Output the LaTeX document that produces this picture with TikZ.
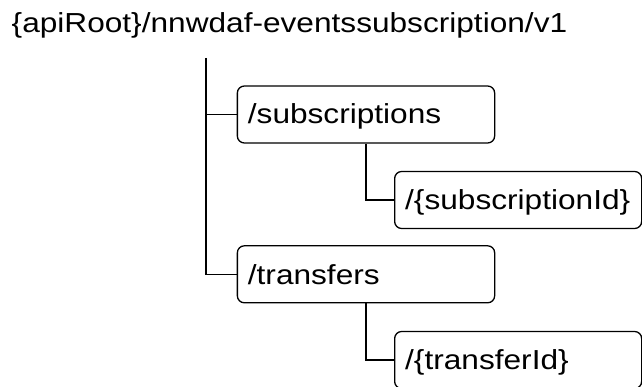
\documentclass[tikz,border=0pt]{standalone}
\usepackage{fontspec}
\setmainfont{Liberation Sans}
\begin{document}
\begin{tikzpicture}[x=1pt,y=1pt,
  resbox/.style={draw=black, line width=1.3pt, rounded corners=7pt, inner sep=0pt, anchor=west, minimum height=57pt},
  restext/.style={anchor=base west, inner sep=0pt, font=\fontsize{27.5}{30}\selectfont},
  conn/.style={draw=black, line width=1.3pt}]
\useasboundingbox (0,0) rectangle (642,386);
\newcommand{\wtxt}[1]{\scalebox{1.15}[1]{#1}}
\node[restext] (title) at (11.5,353.3) {\wtxt{\{apiRoot\}/nnwdaf-eventssubscription/v1}};
\coordinate (trunk) at (206,328);
\node[resbox, minimum width=257.3pt] (subs) at (236.7,271.5) {};
\node[restext] (subst) at (247.7,262) {\wtxt{/subscriptions}};
\node[resbox, minimum width=247pt] (subid) at (394,186) {};
\node[restext] (subidt) at (405,176.5) {\wtxt{/\{subscriptionId\}}};
\node[resbox, minimum width=257.3pt] (trans) at (236.7,111.7) {};
\node[restext] (transt) at (247.7,102) {\wtxt{/transfers}};
\node[resbox, minimum width=247pt] (trid) at (394,26) {};
\node[restext] (tridt) at (405,16.5) {\wtxt{/\{transferId\}}};
\draw[conn] (trunk) |- (trans.west);
\draw[conn] (trunk |- subs.west) -- (subs.west);
\draw[conn] (subs.south) |- (subid.west);
\draw[conn] (trans.south) |- (trid.west);
\end{tikzpicture}
\end{document}
